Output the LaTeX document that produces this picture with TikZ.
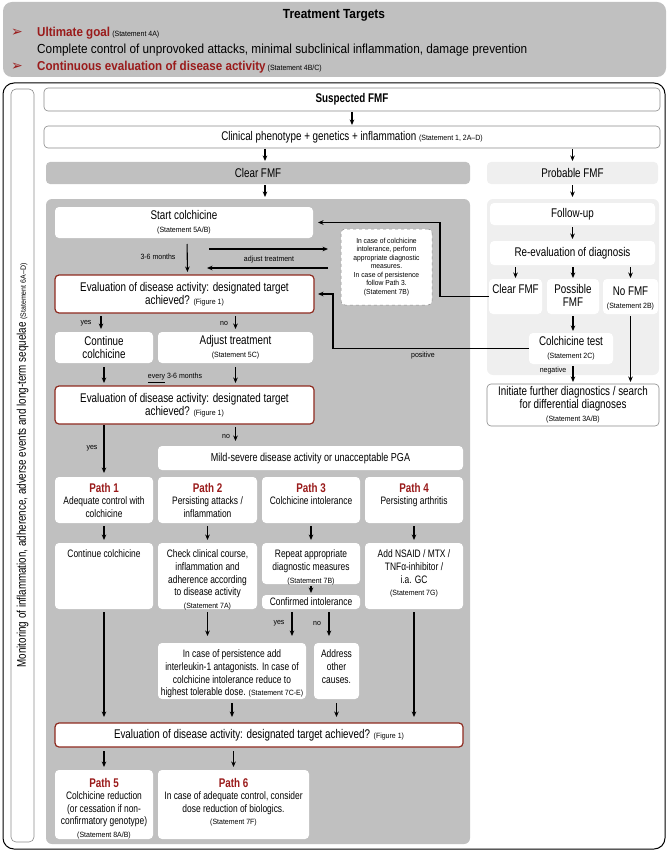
\documentclass[tikz,border=0pt]{standalone}
\usepackage{fontspec}
\setmainfont[FakeStretch=0.78]{Liberation Sans}
\newfontfamily\smallf[FakeStretch=0.92]{Liberation Sans}
\newfontfamily\banf[FakeStretch=0.9]{Liberation Sans}
\newfontfamily\symf{DejaVu Sans}
\usetikzlibrary{arrows.meta}
\definecolor{dred}{HTML}{9A1B1B}
\definecolor{eborder}{HTML}{8E2A1F}
\definecolor{panel}{HTML}{C0C0C0}
\definecolor{lpanel}{HTML}{EFEFEF}
\definecolor{bgray}{HTML}{8A8A8A}
\newcommand{\stm}[1]{{\smallf\mdseries\fontsize{7.6}{9}\selectfont #1}}
\newcommand{\lbl}{\smallf\fontsize{7.6}{9}\selectfont}
\newcommand{\mt}{\fontsize{12.6}{13.2}\selectfont}
\newcommand{\ms}{\fontsize{10.8}{12.6}\selectfont}
\newcommand{\bxc}[3]{\parbox[c][#2pt][c]{#1pt}{\centering\mt #3}}
\newcommand{\bxt}[4]{\parbox[c][#2pt][t]{#1pt}{\centering\mt\vspace*{#3pt}#4}}
\newcommand{\sxc}[3]{\parbox[c][#2pt][c]{#1pt}{\centering\ms #3}}
\newcommand{\sxt}[4]{\parbox[c][#2pt][t]{#1pt}{\centering\ms\vspace*{#3pt}#4}}
\newcommand{\pth}[1]{{\mt\bfseries\color{dred}#1}}
\tikzset{
  wbox/.style={fill=white, rounded corners=4pt, inner sep=0pt, outer sep=0pt, anchor=north west},
  gbox/.style={wbox, draw=bgray, line width=0.6pt},
  ebox/.style={wbox, draw=eborder, line width=1.2pt},
  dbox/.style={wbox, draw=bgray, dashed, line width=0.5pt},
  pnl/.style={rounded corners=6pt, inner sep=0pt, outer sep=0pt, anchor=north west},
  lab/.style={font=\lbl, inner sep=1pt},
  arr/.style={-{Stealth[length=5.5pt,width=4.6pt]}, line width=1.1pt, shorten <=3pt, shorten >=3pt},
}
\begin{document}
\begin{tikzpicture}[x=1pt,y=-1pt]
\useasboundingbox (0,0) rectangle (669,853);
% ---- banner
\node[pnl, fill=panel, rounded corners=9pt, minimum width=663pt, minimum height=75pt] (banner) at (3,2) {};
\node (tt) at (334,15) {\banf\bfseries\fontsize{13.2}{15}\selectfont Treatment Targets};
\node[text=dred, inner sep=0pt] (b1) at (17,33) {\symf\fontsize{14}{14}\selectfont ➢};
\node[anchor=west, inner sep=0pt] (ug) at (37,33) {{\banf\bfseries\fontsize{12.9}{15}\selectfont\color{dred}Ultimate goal} \stm{(Statement 4A)}};
\node[anchor=west, inner sep=0pt] (cc) at (37,50) {\banf\fontsize{13.1}{14}\selectfont Complete control of unprovoked attacks, minimal subclinical inflammation, damage prevention};
\node[text=dred, inner sep=0pt] (b2) at (17,67) {\symf\fontsize{14}{14}\selectfont ➢};
\node[anchor=west, inner sep=0pt] (ce) at (37,67) {{\banf\bfseries\fontsize{12.9}{15}\selectfont\color{dred}Continuous evaluation of disease activity} \stm{(Statement 4B/C)}};
% ---- frame and sidebar
\node[pnl, draw=black, line width=1pt, rounded corners=11pt, minimum width=662pt, minimum height=766pt] (frame) at (3,83) {};
\node[pnl, draw=bgray, line width=0.6pt, rounded corners=5pt, minimum width=23pt, minimum height=753pt] (sb) at (11,89) {};
\node[rotate=90] (sbt) at (sb.center) {\mt Monitoring of inflammation, adherence, adverse events and long-term sequelae \stm{(Statement 6A–D)}};
% ---- top boxes
\node[gbox] (susp) at (44,88) {\bxc{616}{23}{\bfseries Suspected FMF}};
\node[gbox] (clin) at (44,126) {\bxc{616}{22}{Clinical phenotype + genetics + inflammation \stm{(Statement 1, 2A–D)}}};
\node[pnl, fill=panel, rounded corners=4pt] (clearh) at (46,162) {\bxc{424}{22}{Clear FMF}};
\node[pnl, fill=lpanel, rounded corners=4pt] (prob) at (487,162) {\bxc{171}{22}{Probable FMF}};
\node[pnl, fill=panel, minimum width=424pt, minimum height=645pt] (pl) at (46,199) {};
\node[pnl, fill=lpanel, minimum width=172pt, minimum height=176pt] (pr) at (487,199) {};
% ---- left panel
\node[wbox] (start) at (55,207) {\bxc{258}{31}{Start colchicine\\\stm{(Statement 5A/B)}}};
\node[dbox] (note) at (341,229) {\parbox[c][76pt][c]{91pt}{\centering\smallf\fontsize{7.3}{8.5}\selectfont In case of colchicine\\intolerance, perform\\appropriate diagnostic\\measures.\\In case of persistence\\follow Path 3.\\(Statement 7B)}};
\node[ebox] (ev1) at (55,275) {\bxc{259}{38}{Evaluation of disease activity: designated target\\achieved? \stm{(Figure 1)}}};
\node[wbox] (cont) at (55,332) {\bxc{98}{31}{Continue\\colchicine}};
\node[wbox] (adj) at (158,332) {\bxc{155}{31}{Adjust treatment\\\stm{(Statement 5C)}}};
\node[ebox] (ev2) at (55,386) {\bxc{259}{38}{Evaluation of disease activity: designated target\\achieved? \stm{(Figure 1)}}};
\node[wbox] (mild) at (158,446) {\parbox[c][24pt][c]{305pt}{\centering\fontsize{11.6}{13}\selectfont Mild-severe disease activity or unacceptable PGA}};
\node[wbox] (p1) at (55,477) {\sxt{98}{46}{6}{\pth{Path 1}\\Adequate control with\\colchicine}};
\node[wbox] (p2) at (158,477) {\sxt{99}{46}{6}{\pth{Path 2}\\Persisting attacks /\\inflammation}};
\node[wbox] (p3) at (262,477) {\sxt{98}{46}{6}{\pth{Path 3}\\Colchicine intolerance}};
\node[wbox] (p4) at (365,477) {\sxt{98}{46}{6}{\pth{Path 4}\\Persisting arthritis}};
\node[wbox] (r1) at (55,543) {\sxt{98}{66}{7}{Continue colchicine}};
\node[wbox] (r2) at (158,543) {\sxt{99}{66}{7}{Check clinical course,\\inflammation and\\adherence according\\to disease activity\\\stm{(Statement 7A)}}};
\node[wbox] (r3a) at (262,543) {\sxt{98}{41}{7}{Repeat appropriate\\diagnostic measures\\\stm{(Statement 7B)}}};
\node[wbox] (r3b) at (262,595) {\sxc{98}{14}{Confirmed intolerance}};
\node[wbox] (r4) at (365,543) {\sxt{98}{66}{7}{Add NSAID / MTX /\\TNFα-inhibitor /\\i.a. GC\\\stm{(Statement 7G)}}};
\node[wbox] (pers) at (158,643) {\sxt{148}{56}{7}{In case of persistence add\\interleukin-1 antagonists. In case of\\colchicine intolerance reduce to\\highest tolerable dose. \stm{(Statement 7C-E)}}};
\node[wbox] (addr) at (314,643) {\sxt{45}{56}{7}{Address\\other\\causes.}};
\node[ebox] (ev3) at (55,723) {\bxc{408}{24}{Evaluation of disease activity: designated target achieved? \stm{(Figure 1)}}};
\node[wbox] (p5) at (55,770) {\sxt{98}{69}{8}{\pth{Path 5}\\Colchicine reduction\\(or cessation if non-\\confirmatory genotype)\\\stm{(Statement 8A/B)}}};
\node[wbox] (p6) at (158,770) {\sxt{151}{69}{8}{\pth{Path 6}\\In case of adequate control, consider\\dose reduction of biologics.\\\stm{(Statement 7F)}}};
% ---- right panel
\node[wbox] (fu) at (490,203) {\bxc{165}{22}{Follow-up}};
\node[wbox] (re) at (490,241) {\bxc{165}{24}{Re-evaluation of diagnosis}};
\node[wbox] (cr) at (489,279) {\bxt{53}{35}{5}{Clear FMF}};
\node[wbox] (pf) at (547,279) {\bxt{52}{35}{5}{Possible\\FMF}};
\node[wbox] (nf) at (603,279) {\bxt{55}{35}{8}{No FMF\\\stm{(Statement 2B)}}};
\node[wbox] (ct) at (529,333) {\bxc{84}{31}{Colchicine test\\\stm{(Statement 2C)}}};
\node[gbox] (init) at (487,384) {\bxc{172}{42}{Initiate further diagnostics / search\\for differential diagnoses\\\stm{(Statement 3A/B)}}};
% ---- helper coordinates
\coordinate (xa) at (265,0);
\coordinate (cb) at (440,0);
\coordinate (pc) at (333,0);
\coordinate (a1s) at (209,249);
\coordinate (a1e) at (328,249);
\coordinate (a2s) at (328,268);
\coordinate (a2e) at (207,268);
% ---- connectors
\draw[arr, shorten <=1pt, shorten >=1pt] (susp.south) -- (clin.north);
\draw[arr, shorten <=1pt, shorten >=1pt] (clin.south -| xa) -- (clearh.north -| xa);
\draw[arr, shorten <=1pt, shorten >=1pt] (clin.south -| prob.north) -- (prob.north);
\draw[arr, shorten <=1pt, shorten >=2pt] (clearh.south -| xa) -- (pl.north -| xa);
\draw[arr, shorten <=1pt, shorten >=2pt] (prob.south) -- (prob.south |- pr.north);
\draw[arr, shorten <=6pt, shorten >=3pt] ([xshift=3pt]start.south) -- ([xshift=3pt]ev1.north);
\draw[arr, shorten <=0pt, shorten >=0pt] (a1s) -- (a1e);
\draw[arr, shorten <=0pt, shorten >=0pt] (a2s) -- (a2e);
\draw[arr] ([xshift=-3pt]ev1.south -| cont.north) -- ([xshift=-3pt]cont.north);
\draw[arr] (ev1.south -| adj.north) -- (adj.north);
\draw[arr, shorten <=4pt] (cont.south) -- (cont.south |- ev2.north);
\draw[arr, shorten <=4pt] (adj.south) -- (adj.south |- ev2.north);
\draw[arr, shorten <=1pt, shorten >=4pt] (ev2.south -| p1.north) -- (p1.north);
\draw[arr, shorten >=5pt] (ev2.south -| adj.north) -- (adj.north |- mild.north);
\draw[arr] (p1.south) -- (r1.north);
\draw[arr] (p2.south) -- (r2.north);
\draw[arr] (p3.south) -- (r3a.north);
\draw[arr] (p4.south) -- (r4.north);
\draw[arr, shorten <=2pt, shorten >=2pt] (r3a.south) -- (r3b.north);
\draw[arr, shorten >=6pt] (r1.south) -- (ev3.north -| r1.south);
\draw[arr, shorten >=6pt] (r4.south) -- (ev3.north -| r4.south);
\draw[arr, shorten >=7pt] (r2.south) -- (r2.south |- pers.north);
\coordinate (yx) at (292,0);
\coordinate (nx) at (329,0);
\draw[arr, shorten >=7pt] (r3b.south -| yx) -- (pers.north -| yx);
\draw[arr, shorten >=7pt] (r3b.south -| nx) -- (addr.north -| nx);
\draw[arr, shorten <=4pt, shorten >=6pt] (pers.south) -- (pers.south |- ev3.north);
\draw[arr, shorten <=4pt, shorten >=6pt] (addr.south) -- (addr.south |- ev3.north);
\draw[arr, shorten <=4pt] (ev3.south -| p1.north) -- (p5.north);
\draw[arr, shorten <=4pt] (ev3.south -| p6.north) -- (p6.north);
% right connectors
\draw[arr, shorten <=2pt, shorten >=2pt] (fu.south) -- (re.north);
\draw[arr, shorten <=2pt, shorten >=1pt] (re.south -| cr.north) -- (cr.north);
\draw[arr, shorten <=2pt, shorten >=1pt] (re.south -| pf.north) -- (pf.north);
\draw[arr, shorten <=2pt, shorten >=1pt] (re.south -| nf.north) -- (nf.north);
\draw[arr, shorten <=2pt, shorten >=2pt] (pf.south) -- (pf.south |- ct.north);
\draw[arr, shorten <=2pt, shorten >=2pt] (ct.south -| pf.south) -- (pf.south |- init.north);
\draw[arr, shorten <=2pt, shorten >=2pt] (nf.south) -- (nf.south |- init.north);
\draw[arr, shorten <=0pt, shorten >=5pt] (cr.west) -| (cb |- start.east) -- (start.east);
\draw[arr, shorten <=0pt, shorten >=4pt] (ct.west) -| (pc |- ev1.east) -- (ev1.east);
% ---- labels
\node[lab] (l36) at (158,257) {3-6 months};
\node[lab] (ladj) at (269,260) {adjust treatment};
\node[lab] (ly1) at (86,323) {yes};
\node[lab] (ln1) at (224,323) {no};
\node[lab] (lev) at (175,378) {\underline{every} 3-6 months};
\node[lab] (ly2) at (92,448) {yes};
\node[lab] (ln2) at (226,436) {no};
\node[lab] (ly3) at (279,623) {yes};
\node[lab] (ln3) at (317,623) {no};
\node[lab] (lpos) at (423,356) {positive};
\node[lab] (lneg) at (553,371) {negative};
\end{tikzpicture}
\end{document}
